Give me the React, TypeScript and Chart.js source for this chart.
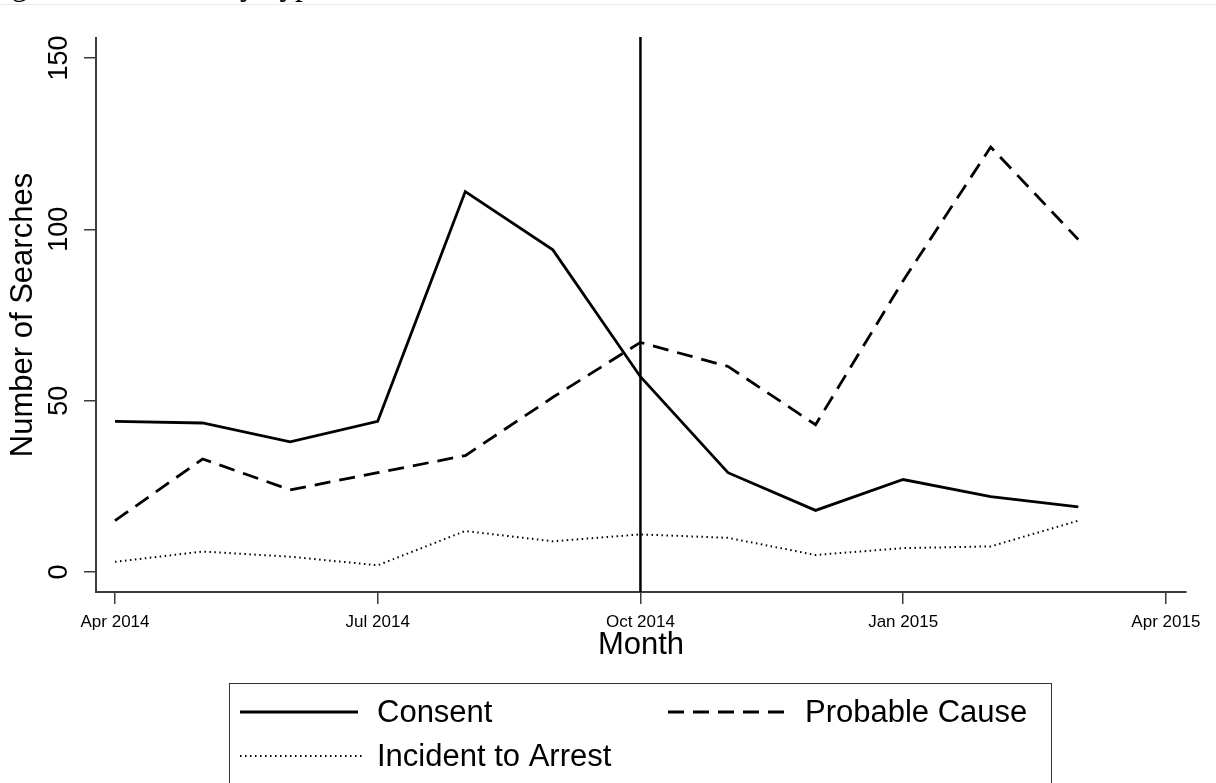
import { useEffect, useRef } from "react";
import { Chart, registerables } from "chart.js";

Chart.register(...registerables);

// Monthly searches, April 2014 (index 0) through March 2015 (index 11)
const months = [
  "Apr 2014", "May 2014", "Jun 2014", "Jul 2014", "Aug 2014", "Sep 2014",
  "Oct 2014", "Nov 2014", "Dec 2014", "Jan 2015", "Feb 2015", "Mar 2015",
];
const consent = [44, 43.5, 38, 44, 111, 94, 57, 29, 18, 27, 22, 19];
const probableCause = [15, 33, 24, 29, 34, 51, 67, 60, 43, 85, 124, 97];
const incidentToArrest = [3, 6, 4.5, 2, 12, 9, 11, 10, 5, 7, 7.5, 15];

// Axis ticks
const xTickPositions = [0, 3, 6, 9, 12];
const xTickLabels = ["Apr 2014", "Jul 2014", "Oct 2014", "Jan 2015", "Apr 2015"];
const yTicks = [0, 50, 100, 150];

// Month of the policy change, marked with a vertical rule
const policyMonth = 6;

const FONT = '"Liberation Sans", Arial, sans-serif';
const AXIS_COLOR = "#3c3c3c";

const toPoints = (values: number[]) => values.map((v, i) => ({ x: i, y: v }));

const decorations = {
  id: "decorations",
  afterDatasetsDraw(chart: any) {
    const { ctx, chartArea, scales } = chart;
    const x = scales.x.getPixelForValue(policyMonth);
    ctx.save();
    ctx.strokeStyle = "#000";
    ctx.lineWidth = 2.5;
    ctx.beginPath();
    ctx.moveTo(x, chartArea.top - 1);
    ctx.lineTo(x, chartArea.bottom);
    ctx.stroke();
    ctx.restore();
  },
  afterDraw(chart: any) {
    const { ctx, scales } = chart;

    // Rotated y tick labels
    ctx.save();
    ctx.fillStyle = "#000";
    ctx.font = `27px ${FONT}`;
    ctx.textAlign = "center";
    ctx.textBaseline = "middle";
    for (const v of yTicks) {
      const y = scales.y.getPixelForValue(v);
      ctx.save();
      ctx.translate(60, y);
      ctx.rotate(-Math.PI / 2);
      ctx.fillText(String(v), 0, 0);
      ctx.restore();
    }
    ctx.restore();

    // Legend box
    const ds = chart.data.datasets;
    ctx.save();
    ctx.strokeStyle = "#333";
    ctx.lineWidth = 1;
    ctx.strokeRect(229.5, 683.5, 822, 160);

    const entries = [
      { d: ds[0], x0: 240, x1: 358, tx: 377, y: 712 },
      { d: ds[1], x0: 668, x1: 786, tx: 805, y: 712 },
      { d: ds[2], x0: 240, x1: 362, tx: 377, y: 756 },
    ];
    ctx.font = `31px ${FONT}`;
    ctx.textAlign = "left";
    ctx.textBaseline = "middle";
    for (const e of entries) {
      ctx.save();
      ctx.strokeStyle = e.d.borderColor;
      ctx.lineWidth = e.d.borderWidth;
      ctx.setLineDash(e.d.borderDash || []);
      ctx.beginPath();
      ctx.moveTo(e.x0, e.y);
      ctx.lineTo(e.x1, e.y);
      ctx.stroke();
      ctx.restore();
      ctx.fillStyle = "#000";
      ctx.fillText(e.d.label, e.tx, e.y + 1);
    }
    ctx.restore();
  },
};

export default function App() {
  const canvasRef = useRef<HTMLCanvasElement | null>(null);

  useEffect(() => {
    if (!canvasRef.current) return;
    const chart = new Chart(canvasRef.current, {
      type: "line",
      data: {
        labels: months,
        datasets: [
          {
            label: "Consent",
            data: toPoints(consent),
            borderColor: "#000",
            borderWidth: 2.8,
            pointRadius: 0,
            tension: 0,
          },
          {
            label: "Probable Cause",
            data: toPoints(probableCause),
            borderColor: "#000",
            borderWidth: 2.8,
            borderDash: [16, 9],
            pointRadius: 0,
            tension: 0,
          },
          {
            label: "Incident to Arrest",
            data: toPoints(incidentToArrest),
            borderColor: "#000",
            borderWidth: 2,
            borderDash: [1.5, 3.5],
            pointRadius: 0,
            tension: 0,
          },
        ],
      },
      options: {
        responsive: false,
        animation: false,
        devicePixelRatio: 1,
        layout: { padding: { left: 0, top: 38, right: 30, bottom: 0 } },
        plugins: {
          legend: { display: false },
          tooltip: { enabled: false },
        },
        scales: {
          x: {
            type: "linear",
            min: -0.217,
            max: 12.23,
            afterBuildTicks: (scale: any) => {
              scale.ticks = xTickPositions.map((v) => ({ value: v }));
            },
            afterFit: (scale: any) => {
              scale.height = 191;
            },
            ticks: {
              autoSkip: false,
              maxRotation: 0,
              minRotation: 0,
              padding: 8,
              color: "#000",
              font: { family: FONT, size: 17 },
              callback: (v: any) => xTickLabels[xTickPositions.indexOf(Number(v))] ?? "",
            },
            grid: {
              display: true,
              drawOnChartArea: false,
              drawTicks: true,
              tickLength: 12,
              color: AXIS_COLOR,
              lineWidth: 1.5,
            },
            border: { display: true, color: AXIS_COLOR, width: 2 },
            title: {
              display: true,
              text: "Month",
              color: "#000",
              font: { family: FONT, size: 31 },
              padding: { top: 0, bottom: 119 },
            },
          },
          y: {
            type: "linear",
            min: -5.8,
            max: 155.8,
            afterBuildTicks: (scale: any) => {
              scale.ticks = yTicks.map((v) => ({ value: v }));
            },
            afterFit: (scale: any) => {
              scale.width = 96;
            },
            ticks: { display: false },
            grid: {
              display: true,
              drawOnChartArea: false,
              drawTicks: true,
              tickLength: 12,
              color: AXIS_COLOR,
              lineWidth: 1.5,
            },
            border: { display: true, color: AXIS_COLOR, width: 2 },
            title: {
              display: true,
              text: "Number of Searches",
              color: "#000",
              font: { family: FONT, size: 31 },
              padding: { top: 5, bottom: 0 },
            },
          },
        },
      },
      plugins: [decorations],
    });
    return () => chart.destroy();
  }, []);

  return (
    <div
      style={{
        position: "fixed",
        left: 0,
        top: 0,
        width: 1216,
        height: 783,
        background: "#fff",
        overflow: "hidden",
      }}
    >
      <div
        style={{
          position: "absolute",
          left: -14,
          top: -31,
          font: '31px "Liberation Serif", serif',
          lineHeight: "31px",
          whiteSpace: "nowrap",
          color: "#000",
        }}
      >
        Figure 4: Searches by Type
      </div>
      <div
        style={{
          position: "absolute",
          left: 0,
          top: 4,
          width: 1216,
          height: 1,
          background: "#e4eaf0",
        }}
      />
      <canvas
        ref={canvasRef}
        width={1216}
        height={783}
        style={{ position: "absolute", left: 0, top: 0 }}
      />
    </div>
  );
}
